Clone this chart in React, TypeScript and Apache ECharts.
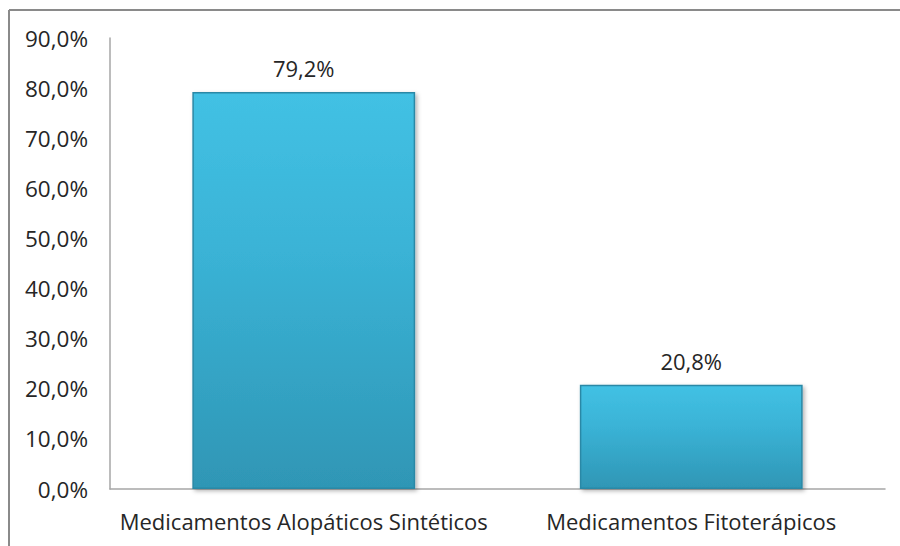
import React, { useEffect, useRef } from "react";
import * as echarts from "echarts";

const categories = ["Medicamentos Alopáticos Sintéticos", "Medicamentos Fitoterápicos"];
const values = [79.2, 20.8];
const yMin = 0;
const yMax = 90;
const yInterval = 10;

const fmt = (v: number) => v.toFixed(1).replace(".", ",") + "%";

export default function App() {
  const ref = useRef<HTMLDivElement>(null);
  useEffect(() => {
    if (!ref.current) return;
    const chart = echarts.init(ref.current, undefined, { renderer: "svg" });
    chart.setOption({
      animation: false,
      backgroundColor: "#ffffff",
      textStyle: { fontFamily: "Open Sans" },
      grid: { left: 110, right: 15, top: 38, bottom: 57 },
      graphic: [
        { type: "line", shape: { x1: 9, y1: 10, x2: 900, y2: 10 }, style: { stroke: "#8a8a8a", lineWidth: 2 } },
        { type: "line", shape: { x1: 9, y1: 10, x2: 9, y2: 546 }, style: { stroke: "#8a8a8a", lineWidth: 2 } },
      ],
      xAxis: {
        type: "category",
        data: categories,
        axisLine: { show: true, lineStyle: { color: "#a6a6a6", width: 1.5 } },
        axisTick: { show: false },
        axisLabel: { color: "#262626", fontSize: 22, margin: 21, interval: 0, fontFamily: "Open Sans" },
        splitLine: { show: false },
      },
      yAxis: {
        type: "value",
        min: yMin,
        max: yMax,
        interval: yInterval,
        axisLine: { show: true, lineStyle: { color: "#a6a6a6", width: 1.5 } },
        axisTick: { show: false },
        splitLine: { show: false },
        axisLabel: {
          color: "#262626",
          fontSize: 22.5,
          margin: 22,
          fontFamily: "Open Sans",
          formatter: (v: number) => fmt(v),
        },
      },
      series: [
        {
          type: "bar",
          data: values,
          barWidth: "57.5%",
          itemStyle: {
            color: new echarts.graphic.LinearGradient(0, 0, 0, 1, [
              { offset: 0, color: "#42c1e4" },
              { offset: 0.4, color: "#3ab3d6" },
              { offset: 1, color: "#2f96b5" },
            ]),
            borderColor: "#2b88a6",
            borderWidth: 1.5,
            shadowColor: "rgba(0,0,0,0.3)",
            shadowBlur: 4,
            shadowOffsetX: 2,
            shadowOffsetY: 2,
          },
          label: {
            show: true,
            position: "top",
            distance: 13,
            color: "#262626",
            fontSize: 22,
            fontFamily: "Open Sans",
            formatter: (p: any) => fmt(p.value),
          },
        },
      ],
    });
    return () => chart.dispose();
  }, []);
  return <div ref={ref} style={{ width: 900, height: 546, position: "fixed", left: 0, top: 0 }} />;
}
